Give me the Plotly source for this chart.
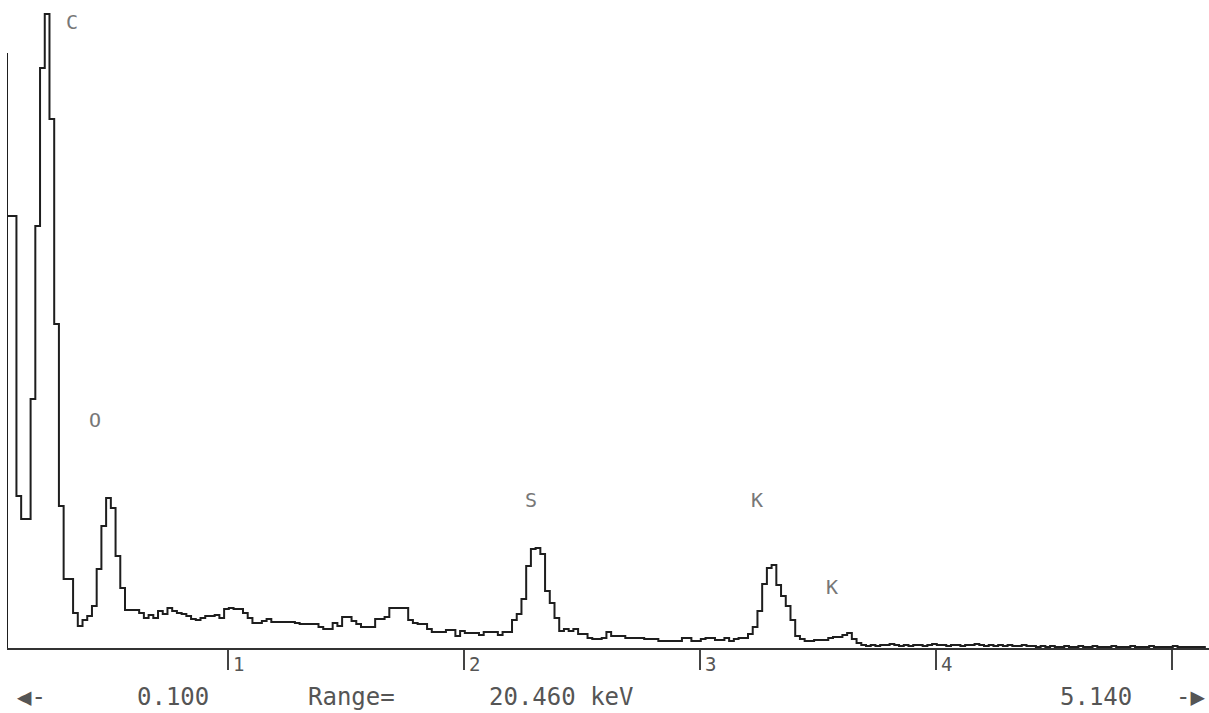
import plotly.graph_objects as go

# ---- data ----
E_START = 0.0636          # keV, first channel edge
E_STEP = 0.02             # keV per channel
STROBE = 595              # height of the zero-energy strobe line at the first edge

counts = [
    432, 432, 152, 129, 129, 249, 422, 580, 634, 529,
    324, 142, 69, 69, 35, 22, 28, 32, 42, 79,
    122, 150, 140, 92, 60, 38, 38, 38, 35, 30,
    33, 30, 37, 34, 40, 37, 35, 34, 32, 29,
    28, 30, 32, 32, 33, 30, 39, 40, 39, 39,
    35, 30, 25, 25, 27, 29, 26, 26, 26, 26,
    26, 25, 24, 24, 24, 24, 21, 19, 19, 25,
    22, 31, 31, 27, 24, 21, 21, 21, 29, 29,
    31, 40, 40, 40, 40, 28, 25, 24, 24, 19,
    16, 16, 16, 18, 18, 12, 17, 15, 15, 15,
    13, 16, 16, 16, 13, 16, 16, 28, 34, 49,
    82, 99, 100, 94, 57, 45, 30, 17, 19, 17,
    19, 14, 14, 10, 9, 9, 10, 16, 12, 12,
    12, 10, 10, 10, 10, 9, 9, 9, 7, 7,
    7, 7, 7, 10, 10, 7, 7, 9, 10, 10,
    8, 8, 10, 7, 9, 10, 10, 14, 21, 37,
    64, 80, 83, 63, 52, 42, 28, 12, 9, 7,
    7, 8, 8, 8, 10, 11, 11, 13, 15, 9,
    5, 3, 2, 3, 2, 3, 3, 4, 3, 2,
    3, 2, 3, 3, 2, 3, 4, 3, 3, 2,
    3, 3, 2, 3, 3, 4, 3, 2, 3, 2,
    3, 2, 3, 2, 2, 3, 2, 2, 1, 2,
    1, 2, 1, 1, 2, 1, 1, 2, 1, 1,
    2, 1, 1, 1, 2, 1, 1, 1, 2, 1,
    1, 1, 2, 1, 1, 1, 1, 2, 1, 1,
    1, 1, 1, 1,
]

tick_values = [1, 2, 3, 4, 5]
tick_labels = ["1", "2", "3", "4", ""]

peak_names = ["C", "O", "S", "K", "K"]
peak_label_kev = [0.339, 0.436, 2.284, 3.242, 3.559]
peak_label_h = [626, 228, 148, 148, 61]

footer_texts = ["\u25c0-", "0.100", "Range=", "20.460 keV", "5.140", "-\u25b6"]
footer_pos = [0.0200, 0.1381, 0.2870, 0.4617, 0.9060, 0.9850]

X_MAX = 5.157
Y_MAX = 648

# ---- build step trace ----
n = len(counts)
edges = [E_START + i * E_STEP for i in range(n + 1)]
xs = [edges[0], edges[0]] + edges
ys = [0, STROBE] + counts + [counts[-1]]

fig = go.Figure()
fig.add_trace(go.Scatter(
    x=xs, y=ys, mode="lines", line_shape="hv",
    line=dict(color="#1e1e1e", width=2),
    hoverinfo="skip", showlegend=False,
))

mono = "DejaVu Sans Mono"
annotations = []
for v, t in zip(tick_values, tick_labels):
    if t:
        annotations.append(dict(
            x=v, y=0, xref="x", yref="paper", text=t, showarrow=False,
            xanchor="left", yanchor="top", xshift=3, yshift=-3,
            font=dict(family=mono, size=19, color="#555555"),
        ))
for name, ex, hy in zip(peak_names, peak_label_kev, peak_label_h):
    annotations.append(dict(
        x=ex, y=hy, xref="x", yref="y", text=name, showarrow=False,
        xanchor="center", yanchor="middle",
        font=dict(family=mono, size=20, color="#777777"),
    ))
for t, px in zip(footer_texts, footer_pos):
    annotations.append(dict(
        x=px, y=-0.0756, xref="paper", yref="paper", text=t, showarrow=False,
        xanchor="center", yanchor="middle",
        font=dict(family=mono, size=24, color="#555555"),
    ))

fig.update_layout(
    width=1209, height=713,
    margin=dict(l=7, r=0, t=0, b=65, pad=0),
    paper_bgcolor="white", plot_bgcolor="white",
    showlegend=False,
    annotations=annotations,
    xaxis=dict(
        range=[E_START, X_MAX], showgrid=False, zeroline=False,
        showline=True, linecolor="#333333", linewidth=2,
        ticks="outside", tickvals=tick_values, ticklen=20, tickwidth=1.5,
        tickcolor="#444444", showticklabels=False, fixedrange=True,
    ),
    yaxis=dict(range=[0, Y_MAX], visible=False, fixedrange=True),
)

fig.write_html(
    "out.html",
    config={"displayModeBar": False},
    post_script="document.body.style.margin='0';document.body.style.overflow='hidden';",
)
